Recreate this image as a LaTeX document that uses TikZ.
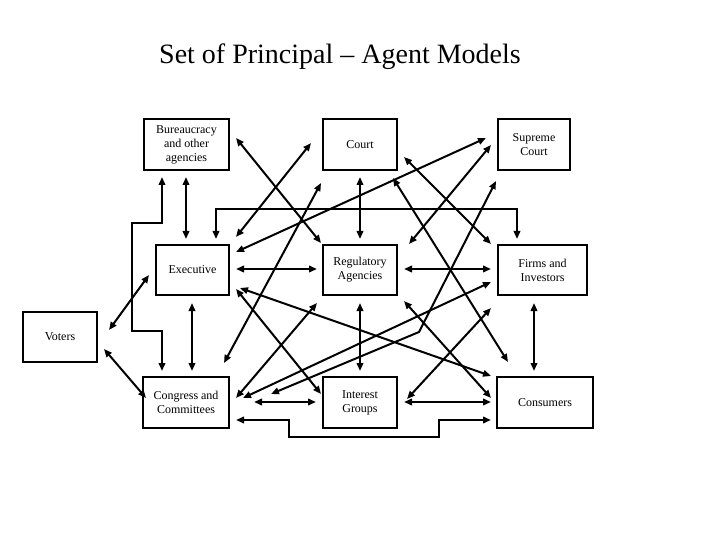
\documentclass[tikz,border=0pt]{standalone}
\usepackage{fontspec}
\setmainfont{Liberation Serif}
\usetikzlibrary{arrows.meta}
\begin{document}
\begin{tikzpicture}[x=1pt,y=-1pt,
  box/.style={draw,line width=2pt,inner sep=0pt,align=center,font=\fontsize{12}{14}\selectfont},
  dbl/.style={line width=2pt,{Triangle[length=8pt,width=6.5pt]}-{Triangle[length=8pt,width=6.5pt]}}]
\useasboundingbox[fill=white] (0,0) rectangle (720,540);
\node[font=\fontsize{28}{32}\selectfont,anchor=base] (title) at (340,64) {Set of Principal – Agent Models};
% boxes
\node[box,minimum width=85pt,minimum height=51pt] (bur) at (186.5,144.5) {Bureaucracy\\and other\\agencies};
\node[box,minimum width=74pt,minimum height=51pt] (court) at (360,144.5) {Court};
\node[box,minimum width=72pt,minimum height=51pt] (sup) at (534,144.5) {Supreme\\Court};
\node[box,minimum width=73pt,minimum height=50pt] (exe) at (192.5,270) {Executive};
\node[box,minimum width=74pt,minimum height=50pt] (reg) at (360,270) {Regulatory\\Agencies};
\node[box,minimum width=89pt,minimum height=50pt] (firm) at (542.5,270) {Firms and\\Investors};
\node[box,minimum width=74pt,minimum height=50pt] (vot) at (60,337) {Voters};
\node[box,minimum width=86pt,minimum height=51pt] (con) at (186,402.5) {Congress and\\Committees};
\node[box,minimum width=74pt,minimum height=51pt] (int) at (360,402.5) {Interest\\Groups};
\node[box,minimum width=96pt,minimum height=51pt] (cons) at (545,402.5) {Consumers};
% connectors
\draw[dbl] ([shift={(-0.5,6)}]bur.south) -- ([shift={(-6.5,-5)}]exe.north);
\draw[dbl] ([shift={(-24.5,6)}]bur.south) -- ++(0,46) -- ++(-30,0) -- ++(0,108) -- ++(30,0) -- ([shift={(-24,-5)}]con.north);
\draw[dbl] ([shift={(23.5,-5)}]exe.north) -- ++(0,-30) -| ([shift={(-25.5,-5)}]firm.north);
\draw[dbl] ([shift={(0,6)}]court.south) -- ([shift={(0,-5)}]reg.north);
\draw[dbl] ([shift={(6,-6.5)}]bur.east) -- ([shift={(-1,-1)}]reg.north west);
\draw[dbl] ([shift={(-11,-1.5)}]court.west) -- ([shift={(6,-7)}]exe.north east);
\draw[dbl] ([shift={(6,-18)}]exe.east) -- ([shift={(-11,-6.5)}]sup.west);
\draw[dbl] ([shift={(-1,12)}]court.south west) -- ([shift={(-6,-13)}]con.north east);
\draw[dbl] ([shift={(6,-7)}]exe.south east) -- ([shift={(-1,-8.5)}]int.west);
\draw[dbl] ([shift={(10,-8)}]exe.south east) -- ([shift={(-5,0)}]cons.north west);
\draw[dbl] ([shift={(-5,7)}]reg.south west) -- ([shift={(6,-4.5)}]con.east);
\draw[dbl] ([shift={(13,-4.5)}]con.east) -- ([shift={(-6,12)}]firm.west);
\draw[dbl] ([shift={(41,-8.5)}]con.east) -- (419,332) -- ([shift={(-1,10)}]sup.south west);
\draw[dbl] ([shift={(24,-0.5)}]con.east) -- ([shift={(-6,-0.5)}]int.west);
\draw[dbl] ([shift={(6,17.5)}]con.east) -- ++(53,0) -- ++(0,17) -- ++(150,0) -- ++(0,-17) -- ([shift={(-5,17.5)}]cons.west);
\draw[dbl] ([shift={(0,7)}]reg.south) -- ([shift={(0,-5)}]int.north);
\draw[dbl] ([shift={(-8.5,7)}]firm.south) -- ([shift={(-11,-5)}]cons.north);
\draw[dbl] ([shift={(6,-0.5)}]int.east) -- ([shift={(-5,-0.5)}]cons.west);
\draw[dbl] ([shift={(9,-3.5)}]int.east) -- ([shift={(-6,12)}]firm.south west);
\draw[dbl] ([shift={(6,5)}]reg.south east) -- ([shift={(-5,-4.5)}]cons.west);
\draw[dbl] ([shift={(-5,7)}]court.south east) -- ([shift={(12,-14)}]cons.north west);
\draw[dbl] ([shift={(6,12.5)}]court.east) -- ([shift={(-6,0)}]firm.north west);
\draw[dbl] ([shift={(-6,0.5)}]sup.west) -- ([shift={(11,0)}]reg.north east);
\draw[dbl] ([shift={(6,-1)}]exe.east) -- ([shift={(-5,-1)}]reg.west);
\draw[dbl] ([shift={(6,-1)}]reg.east) -- ([shift={(-6,-1)}]firm.west);
\draw[dbl] ([shift={(-0.5,7)}]exe.south) -- ([shift={(6,-5)}]con.north);
\draw[dbl] ([shift={(11,-7)}]vot.east) -- ([shift={(-6,5)}]exe.west);
\draw[dbl] ([shift={(6,12)}]vot.east) -- ([shift={(4,-4.5)}]con.west);
\end{tikzpicture}
\end{document}
